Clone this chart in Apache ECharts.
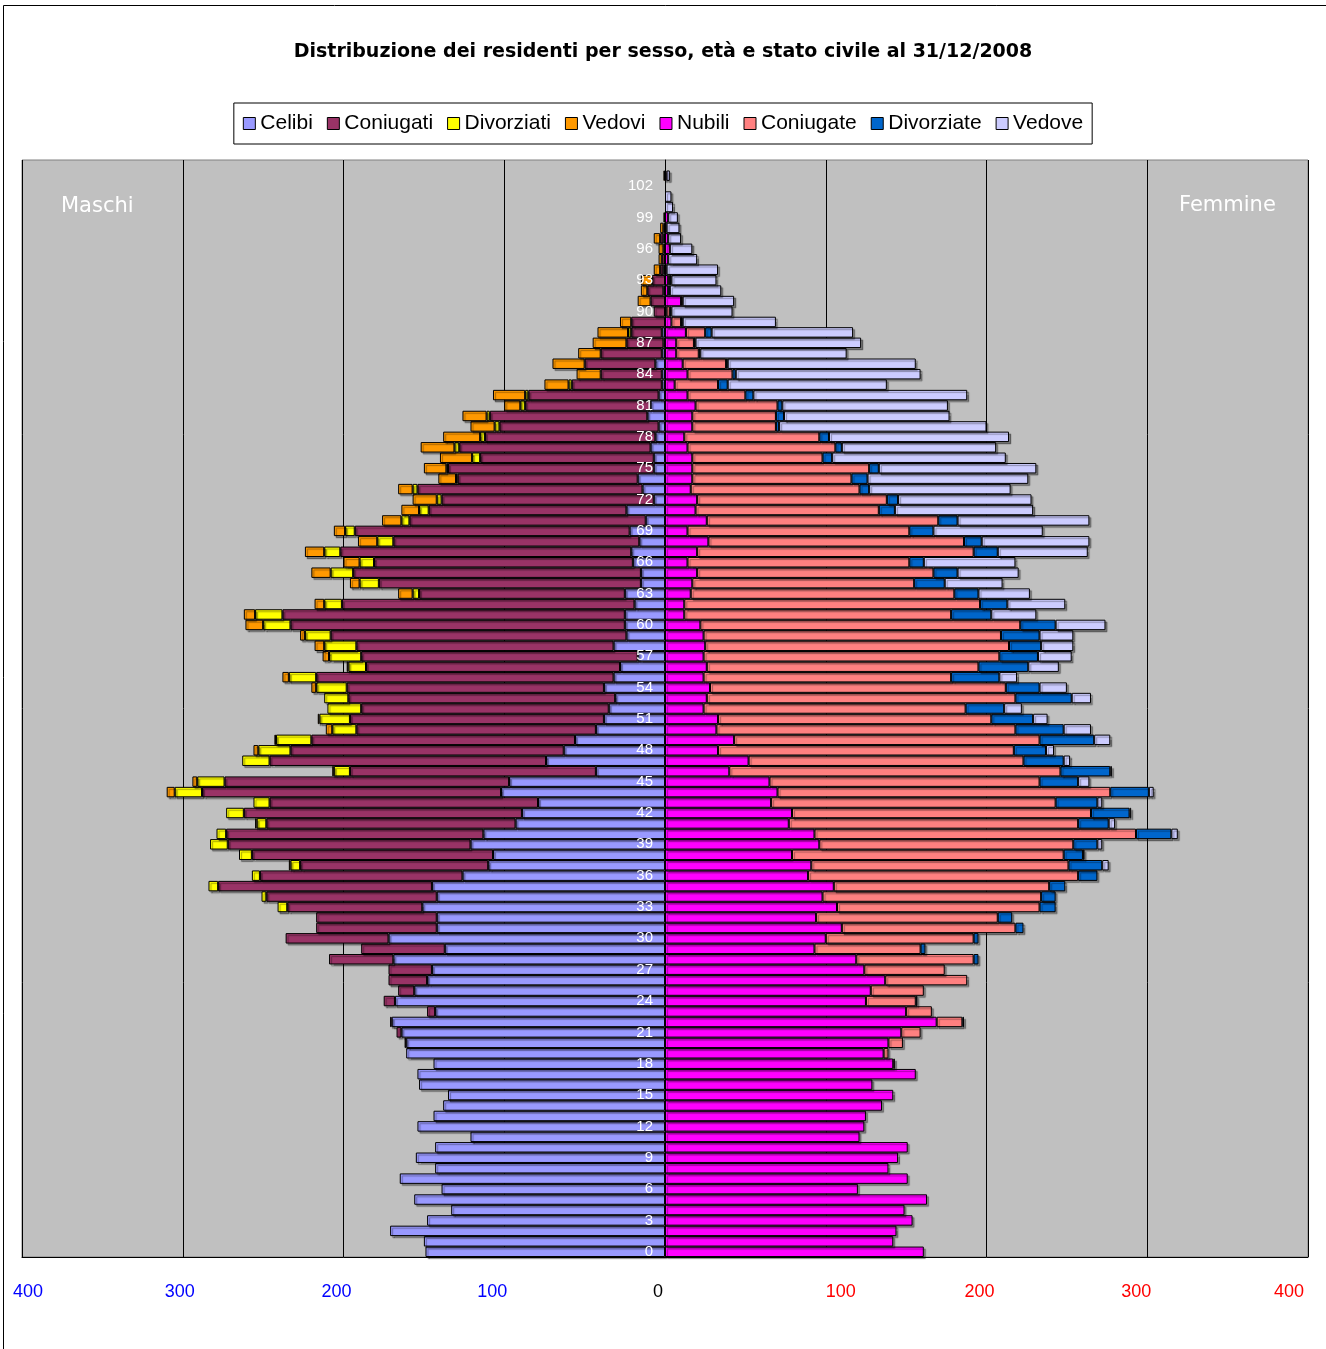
<!DOCTYPE html>
<html>
<head>
<meta charset="utf-8">
<script src="https://cdn.jsdelivr.net/npm/echarts@6/dist/echarts.min.js"></script>
<style>
  html, body { margin: 0; padding: 0; background: #fff; }
  #chart { width: 1326px; height: 1349px; }
</style>
</head>
<body>
<div id="chart"></div>
<script>
// età 0..104
const ages = [];
for (let a = 0; a <= 104; a++) ages.push(String(a));

// Maschi (dall'età 0 in su)
const celibi = [149,150,171,148,133,156,139,165,143,155,143,121,154,144,138,135,153,154,144,161,
  161,164,170,143,168,156,148,145,169,137,172,142,142,151,142,145,126,110,107,121,
  113,93,89,79,102,97,43,74,63,56,43,38,35,31,38,32,28,17,32,24,
  25,25,19,25,15,15,20,21,16,22,12,24,7,14,17,7,7,9,6,4,
  11,9,4,2,2,6,2,1,2,0,0,0,1,0,1,0,0,1,0,0,0,0,0,0,0];
const coniugati = [0,0,0,0,0,0,0,0,0,0,0,0,0,0,0,0,0,0,0,0,
  1,3,1,5,7,10,24,27,40,52,64,75,75,84,106,133,126,117,150,151,
  160,155,173,167,186,177,153,172,170,164,149,158,154,166,160,185,158,172,160,184,
  208,213,182,128,163,179,161,181,153,171,147,123,132,140,112,128,108,119,106,99,
  98,78,81,56,38,44,38,23,19,21,7,9,10,8,2,2,1,2,1,0,0,0,0,0,0];
const divorziati = [0,0,0,0,0,0,0,0,0,0,0,0,0,0,0,0,0,0,0,0,
  0,0,0,0,0,0,0,0,0,0,0,0,0,6,3,6,5,6,8,11,
  6,6,11,10,17,17,10,17,20,22,15,19,21,15,19,17,11,20,20,16,
  17,17,11,4,12,14,9,10,10,6,5,6,3,3,1,1,5,3,3,3,
  2,3,2,2,0,0,0,0,2,0,0,0,0,0,0,0,0,0,0,0,0,0,0,0,0];
const vedovi = [0,0,0,0,0,0,0,0,0,0,0,0,0,0,0,0,0,0,0,0,
  0,0,0,0,0,0,0,0,0,0,0,0,0,0,0,0,0,1,0,0,
  0,1,0,0,5,3,1,0,3,1,4,1,0,0,3,4,1,4,6,3,
  11,7,6,9,6,12,10,12,12,7,12,11,15,9,11,14,20,21,23,15,
  15,10,20,15,15,20,14,21,19,7,0,8,4,7,4,2,3,4,2,1,0,0,0,1,0];

// Femmine
const nubili = [161,142,144,154,149,163,120,151,139,145,151,121,124,125,135,142,129,156,142,136,
  139,147,169,150,125,128,137,124,119,93,100,110,94,107,98,105,89,91,79,96,
  93,77,79,66,70,65,40,52,33,43,32,33,24,26,28,24,26,24,25,24,
  22,12,12,16,17,20,14,20,27,14,26,19,20,16,17,17,17,14,12,17,
  17,19,14,6,14,11,7,7,13,4,1,10,2,2,1,2,3,2,1,2,0,0,0,1,0];
const coniugate = [0,0,0,0,0,0,0,0,0,0,0,0,0,0,0,0,0,0,1,3,
  9,12,16,16,31,33,51,50,73,66,92,108,113,126,136,134,168,160,169,158,
  200,180,186,177,207,168,206,171,184,190,186,170,163,192,184,154,169,184,189,185,
  199,166,184,164,138,147,138,172,159,138,144,114,118,105,99,110,81,92,84,52,
  52,51,36,27,28,27,14,11,12,6,2,1,0,1,0,0,0,0,0,0,0,0,0,0,0];
const divorziate = [0,0,0,0,0,0,0,0,0,0,0,0,0,0,0,0,0,0,0,0,
  0,0,1,0,1,0,0,0,3,3,3,5,9,10,9,10,12,21,12,15,
  22,19,24,26,24,24,31,25,20,34,30,26,24,35,21,30,31,24,20,24,
  22,25,17,15,19,15,9,15,11,15,12,10,7,6,10,6,6,4,6,2,
  5,3,5,6,2,1,1,1,4,1,1,0,1,1,0,0,0,0,0,0,0,0,0,0,0];
const vedove = [0,0,0,0,0,0,0,0,0,0,0,0,0,0,0,0,0,0,0,0,
  0,0,0,0,0,0,0,0,0,0,0,0,0,0,0,0,0,4,1,3,
  4,4,1,3,3,7,1,4,5,10,17,9,11,12,17,11,19,21,20,21,
  31,28,36,32,36,38,57,56,67,68,82,86,83,88,100,98,108,96,112,129,
  103,103,133,99,115,117,91,103,88,58,38,32,32,28,32,18,14,8,8,6,5,4,0,2,0];

const xTicks = [-400, -300, -200, -100, 0, 100, 200, 300, 400];
// piccoli spostamenti orizzontali delle etichette dell'asse x (px), come nell'originale
const xShift = [6, -3, -7, -12, -7, 15, -7, -11, -19];

const myChart = echarts.init(document.getElementById('chart'));

function serie(name, values, color, maschi) {
  return {
    name: name,
    type: 'bar',
    stack: 'tot',
    barCategoryGap: '0%',
    data: values.map(v => v ? (maschi ? -v : v) : null),
    itemStyle: {
      color: color,
      borderColor: '#000',
      borderWidth: 1,
      shadowColor: 'rgba(0,0,0,0.35)',
      shadowBlur: 1,
      shadowOffsetX: 2,
      shadowOffsetY: 2
    },
    emphasis: { disabled: true }
  };
}

// stili rich per le etichette dell'asse x
const xRich = {};
xTicks.forEach((t, i) => {
  const s = xShift[i];
  xRich['t' + i] = {
    color: t < 0 ? '#0000ff' : (t > 0 ? '#ff0000' : '#000'),
    fontSize: 18,
    fontFamily: 'Liberation Sans',
    padding: s >= 0 ? [0, 0, 0, 2 * s] : [0, -2 * s, 0, 0]
  };
});

const option = {
  animation: false,
  backgroundColor: '#fff',
  title: {
    text: 'Distribuzione dei residenti per sesso, età e stato civile al 31/12/2008',
    left: 'center',
    top: 38,
    textStyle: { fontFamily: 'DejaVu Sans', fontSize: 19, fontWeight: 'bold', color: '#000' }
  },
  legend: {
    top: 103,
    left: 'center',
    icon: 'rect',
    itemWidth: 12,
    itemHeight: 12,
    itemGap: 14,
    padding: [10, 9],
    backgroundColor: '#fff',
    borderColor: '#000',
    borderWidth: 1,
    itemStyle: { borderColor: '#000', borderWidth: 1, shadowBlur: 0, shadowOffsetX: 0, shadowOffsetY: 0 },
    textStyle: { fontFamily: 'Liberation Sans', fontSize: 21, color: '#000' },
    data: ['Celibi', 'Coniugati', 'Divorziati', 'Vedovi', 'Nubili', 'Coniugate', 'Divorziate', 'Vedove']
  },
  grid: {
    left: 22,
    right: 18,
    top: 160,
    bottom: 92,
    outerBoundsMode: 'none',
    containLabel: false,
    show: true,
    backgroundColor: '#c0c0c0',
    borderColor: '#808080',
    borderWidth: 1
  },
  xAxis: {
    type: 'value',
    min: -400,
    max: 400,
    interval: 100,
    axisLine: { show: true, lineStyle: { color: '#000' } },
    axisTick: { show: false },
    splitLine: { show: true, lineStyle: { color: '#000', width: 1 } },
    axisLabel: {
      margin: 26,
      formatter: function (v) {
        const i = xTicks.indexOf(v);
        return '{t' + i + '|' + Math.abs(v) + '}';
      },
      rich: xRich
    }
  },
  yAxis: {
    type: 'category',
    data: ages,
    z: 10,
    // asse spostato sullo zero (metà larghezza griglia)
    offset: -643,
    axisLine: { onZero: false, lineStyle: { color: '#000', width: 1 } },
    axisTick: { show: false },
    splitLine: { show: false },
    axisLabel: {
      interval: 2,
      margin: 12,
      color: '#fff',
      fontSize: 15,
      fontFamily: 'Liberation Sans'
    }
  },
  graphic: [
    {
      type: 'rect',
      left: 1, top: 3,
      shape: { width: 1324, height: 1360 },
      style: { fill: null, stroke: '#000', lineWidth: 1 },
      silent: true
    },
    {
      type: 'text',
      left: 61, top: 196,
      z: 20,
      style: { text: 'Maschi', fill: '#fff', fontSize: 21, fontFamily: 'DejaVu Sans' }
    },
    {
      type: 'text',
      left: 1179, top: 195,
      z: 20,
      style: { text: 'Femmine', fill: '#fff', fontSize: 21, fontFamily: 'DejaVu Sans' }
    }
  ],
  series: [
    serie('Celibi', celibi, '#9999ff', true),
    serie('Coniugati', coniugati, '#993366', true),
    serie('Divorziati', divorziati, '#ffff00', true),
    serie('Vedovi', vedovi, '#ff9900', true),
    serie('Nubili', nubili, '#ff00ff', false),
    serie('Coniugate', coniugate, '#ff8080', false),
    serie('Divorziate', divorziate, '#0066cc', false),
    serie('Vedove', vedove, '#ccccff', false)
  ]
};

myChart.setOption(option);
window.addEventListener('resize', function () {
  myChart.resize();
});
</script>
</body>
</html>
